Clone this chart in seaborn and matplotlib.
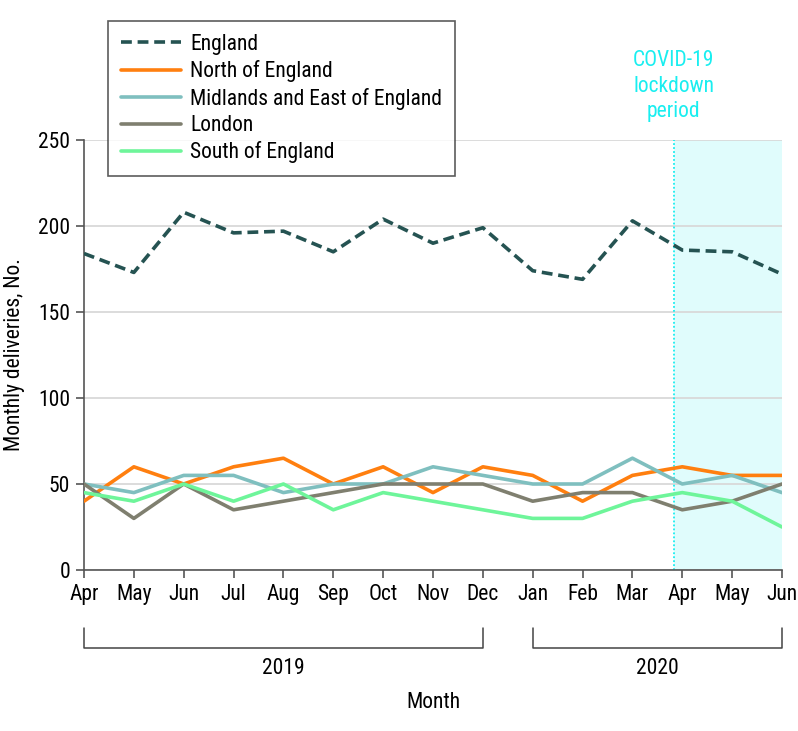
import numpy as np
import pandas as pd
import matplotlib
matplotlib.use("Agg")
import matplotlib.pyplot as plt
import matplotlib.transforms as mtransforms
from matplotlib import font_manager
import seaborn as sns

months = ["Apr", "May", "Jun", "Jul", "Aug", "Sep", "Oct", "Nov", "Dec",
          "Jan", "Feb", "Mar", "Apr", "May", "Jun"]
england = [184, 173, 208, 196, 197, 185, 204, 190, 199, 174, 169, 203, 186, 185, 172]
north = [40, 60, 50, 60, 65, 50, 60, 45, 60, 55, 40, 55, 60, 55, 55]
midlands = [50, 45, 55, 55, 45, 50, 50, 60, 55, 50, 50, 65, 50, 55, 45]
london = [50, 30, 50, 35, 40, 45, 50, 50, 50, 40, 45, 45, 35, 40, 50]
south = [45, 40, 50, 40, 50, 35, 45, 40, 35, 30, 30, 40, 45, 40, 25]
series_names = ["England", "North of England", "Midlands and East of England",
                "London", "South of England"]
years = ["2019", "2020"]
lockdown_start = 11.83

sns.set_theme(style="white")
available = {f.name for f in font_manager.fontManager.ttflist}
fam = [f for f in ["Liberation Sans Narrow", "Roboto Condensed", "Open Sans Condensed",
                   "Noto Sans Condensed", "Lato", "Liberation Sans"] if f in available]
plt.rcParams['font.family'] = fam[:1] + ['DejaVu Sans']
plt.rcParams['text.color'] = 'black'
FS = 15.5

rows = []
for name, vals in zip(series_names, [england, north, midlands, london, south]):
    for i, v in enumerate(vals):
        rows.append({"idx": i, "value": v, "Region": name})
df = pd.DataFrame(rows)

palette = {"England": "#255352", "North of England": "#ff7f0f",
           "Midlands and East of England": "#7fbfbf", "London": "#7f7f6f",
           "South of England": "#6ef59a"}
dashes = {"England": (3, 1.6), "North of England": "", "Midlands and East of England": "",
          "London": "", "South of England": ""}

fig = plt.figure(figsize=(7.98, 7.31), dpi=100)
ax = fig.add_axes([84/798, 1-570/731, (782-84)/798, (570-140)/731])

ax.axvspan(lockdown_start, 14, color="#e0fcfc", zorder=0, lw=0)
ax.axvline(lockdown_start, color="#19eef0", ls=(0, (1, 1.2)), lw=1.3, zorder=1)

sns.lineplot(data=df, x="idx", y="value", hue="Region", style="Region",
             palette=palette, dashes=dashes, hue_order=series_names,
             style_order=series_names, lw=2.6, ax=ax, zorder=3)

ax.set_xlim(0, 14)
ax.set_ylim(0, 250)
ax.set_yticks([0, 50, 100, 150, 200, 250])
ax.set_xticks(range(15))
ax.set_xticklabels(months)
ax.yaxis.grid(True, color="#d9d9d9", lw=1.3)
ax.set_axisbelow(True)
for s in ["top", "right"]:
    ax.spines[s].set_visible(False)
for s in ["left", "bottom"]:
    ax.spines[s].set_color("#555555")
    ax.spines[s].set_linewidth(1.2)
ax.tick_params(axis="both", which="both", length=6, width=1.2, color="#555555",
               labelsize=FS, labelcolor="black", pad=4)
ax.tick_params(axis="y", left=True)
ax.tick_params(axis="x", bottom=True)
ax.set_xlabel("")
ax.set_ylabel("Monthly deliveries, No.", fontsize=FS, labelpad=9, color="black")

leg = ax.legend(loc="upper left", bbox_to_anchor=(108/798, 1-21/731),
                bbox_transform=fig.transFigure, frameon=True, fancybox=False,
                fontsize=FS, handlelength=2.8, labelspacing=0.25,
                borderpad=0.6, handletextpad=0.42, borderaxespad=0, title=None)
leg.get_frame().set_edgecolor("#333333")
leg.get_frame().set_linewidth(1.2)
for t in leg.get_texts():
    t.set_color("black")
for h in leg.get_lines():
    h.set_linewidth(2.6)

trans = mtransforms.blended_transform_factory(ax.transData, ax.transAxes)
y_top = (570 - 628) / 430
y_bot = (570 - 648) / 430
for (x0, x1), yr in zip([(0, 8), (9, 14)], years):
    ax.plot([x0, x0, x1, x1], [y_top, y_bot, y_bot, y_top], color="#444444",
            lw=1.1, transform=trans, clip_on=False)
    ax.text((x0 + x1) / 2, (570 - 668) / 430, yr, transform=trans,
            ha="center", va="center", fontsize=FS, color="black")
ax.text(7, (570 - 703) / 430, "Month", transform=trans, ha="center",
        va="center", fontsize=FS, color="black")

ax.text(lockdown_start, (570 - 86) / 430, "COVID-19\nlockdown\nperiod", transform=trans,
        ha="center", va="center", fontsize=FS, color="#19eef0", linespacing=1.3)

fig.savefig("out.png", dpi=100)
